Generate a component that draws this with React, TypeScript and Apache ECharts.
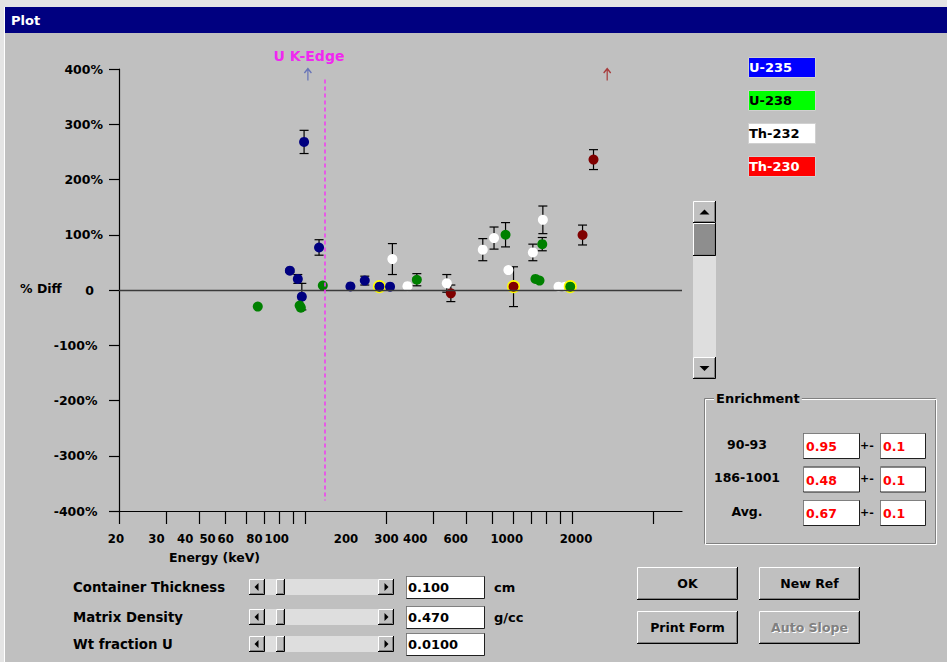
import { useEffect, useRef } from 'react';
import * as echarts from 'echarts';

const FONT = '"DejaVu Sans", Verdana, sans-serif';
const FONT_COND = '"DejaVu Sans Condensed", "DejaVu Sans", sans-serif';

// ---- data: [energy keV, % diff, ± error (0 = none)] ----
const th232 = [
  [211.4, 56, 28], [240.8, 7, 0], [338, 12, 16], [461, 73, 20], [508, 94, 20],
  [575, 36, 0], [710, 68, 15], [774, 127, 25], [886, 6, 0], [938, 6, 0],
];
const u235 = [
  [87.3, 35, 3], [93.5, 20, 8], [98.7, 268, 21], [96.8, -12, 24], [112.3, 77, 14],
  [147.2, 6.5, 0], [166.6, 17, 8], [189, 6, 0], [207.2, 6, 0],
];
const u238 = [
  [66.2, -30, 0], [95, -28, 0], [96, -32, 0], [116, 8, 0], [261, 18.6, 11],
  [561, 100, 22], [726, 20, 0], [752, 17, 0], [770, 83, 12], [980, 6, 0],
];
const th230 = [
  [350, -6, 15], [601, 6, 36], [1090, 99.5, 18], [1198, 236, 18],
];
const u235OffScale = [[102, 391]];
const th230OffScale = [[1348, 391]];
const refPeaks = [189, 601, 980];
const kEdgeEnergy = 118;
const kEdgeSpan = [381, -381];

const xTickValues = [20, 30, 40, 50, 60, 70, 80, 90, 100, 200, 300, 400, 500, 600, 700, 800, 900, 1000, 2000];
const xLabelValues = [20, 30, 40, 50, 60, 80, 100, 200, 300, 400, 600, 1000, 2000];
const yMin = -400;
const yMax = 400;
const yStep = 100;

const legendItems = ['U-235', 'U-238', 'Th-232', 'Th-230'];
const legendFills = ['#0000ff', '#00ff00', '#ffffff', '#ff0000'];
const legendTextColors = ['#ffffff', '#000000', '#000000', '#ffffff'];
const seriesColors = ['#ffffff', '#000080', '#008000', '#800000'];

const enrichRows = ['90-93', '186-1001', 'Avg.'];
const enrichValues = ['0.95', '0.48', '0.67'];
const enrichErrors = ['0.1', '0.1', '0.1'];

const sliderLabels = ['Container Thickness', 'Matrix Density', 'Wt fraction U'];
const sliderValues = ['0.100', '0.470', '0.0100'];
const sliderUnits = ['cm', 'g/cc', ''];
const buttonLabels = ['OK', 'New Ref', 'Print Form', 'Auto Slope'];

const AX = 12.5;

// ---- drawing helpers for the window chrome ----
const txt = (x: number, y: number, text: string, o: any = {}) => ({
  type: 'text',
  x,
  y,
  silent: true,
  z: o.z ?? 10,
  style: {
    text,
    font: `${o.weight ?? 'bold'} ${o.size ?? 12.5}px ${FONT}`,
    fill: o.color ?? '#000',
    align: o.align ?? 'left',
    verticalAlign: 'middle',
    textAlign: o.align ?? 'left',
    textVerticalAlign: 'middle',
    backgroundColor: o.bg,
    padding: o.pad,
  },
});
const rect = (x: number, y: number, w: number, h: number, fill: string, stroke?: string) => ({
  type: 'rect',
  silent: true,
  shape: { x, y, width: w, height: h },
  style: { fill, stroke: stroke ?? null, lineWidth: 1 },
});
const pl = (pts: number[][], stroke: string) => ({
  type: 'polyline',
  silent: true,
  shape: { points: pts },
  style: { stroke, fill: null, lineWidth: 1 },
});
const tri = (pts: number[][]) => ({
  type: 'polygon',
  silent: true,
  shape: { points: pts },
  style: { fill: '#000', stroke: null },
});
const raised = (x: number, y: number, w: number, h: number, fill = '#c0c0c0') => [
  rect(x, y, w, h, fill),
  pl([[x + 0.5, y + h - 1], [x + 0.5, y + 0.5], [x + w - 1, y + 0.5]], '#ffffff'),
  pl([[x, y + h - 0.5], [x + w - 0.5, y + h - 0.5], [x + w - 0.5, y]], '#000000'),
  pl([[x + 1, y + h - 1.5], [x + w - 1.5, y + h - 1.5], [x + w - 1.5, y + 1]], '#808080'),
];
const sunken = (x: number, y: number, w: number, h: number) => [
  rect(x + 0.5, y + 0.5, w - 1, h - 1, '#ffffff', '#202020'),
  pl([[x + 0.5, y + h - 1], [x + 0.5, y + 0.5], [x + w - 1, y + 0.5]], '#808080'),
];

function buildGraphics() {
  const g: any[] = [];
  // window frame + title bar
  g.push(rect(0, 0, 947, 7, '#e4e4e4'));
  g.push(rect(0, 0, 4, 662, '#e4e4e4'));
  g.push(rect(4, 7, 1, 655, '#ffffff'));
  g.push(rect(5, 7, 942, 26, '#000080'));
  g.push(txt(11, 20, 'Plot', { color: '#ffffff', size: 13 }));

  // axis captions
  g.push(txt(20, 288, '% Diff', { size: AX }));
  g.push(txt(214.5, 557, 'Energy (keV)', { size: AX, align: 'center' }));
  g.push(txt(309, 56, 'U K-Edge', { size: 14, align: 'center', color: '#f028f0' }));

  // legend boxes
  legendItems.forEach((name, i) => {
    const y = 57 + i * 33;
    g.push(rect(748.5, y + 0.5, 67, 20, legendFills[i], '#d0d0d0'));
    g.push(txt(749, y + 10.5, name, { color: legendTextColors[i], size: 13 }));
  });

  // vertical scrollbar
  const vx = 693;
  g.push(rect(vx, 256, 23, 101, '#dedede'));
  g.push(...raised(vx, 201, 23, 22));
  g.push(tri([[699.5, 214.5], [709.5, 214.5], [704.5, 209.5]]));
  g.push(...raised(vx, 223, 23, 33, '#8e8e8e'));
  g.push(...raised(vx, 357, 23, 22));
  g.push(tri([[699.5, 366], [709.5, 366], [704.5, 371]]));

  // enrichment group box
  g.push(rect(704.5, 398.5, 231, 145, 'rgba(0,0,0,0)', '#808080'));
  g.push(rect(705.5, 399.5, 231, 145, 'rgba(0,0,0,0)', '#ffffff'));
  g.push(txt(714, 398, 'Enrichment', { bg: '#c0c0c0', pad: [0, 2, 0, 2], size: 13 }));
  enrichRows.forEach((label, i) => {
    const y = 433 + i * 33.5;
    g.push(txt(747, y + 11, label, { align: 'center' }));
    g.push(...sunken(803, y, 57, 26));
    g.push(txt(806, y + 13.5, enrichValues[i], { color: '#ff0000' }));
    g.push(txt(867, y + 12, '+-', { align: 'center', size: 11 }));
    g.push(...sunken(880, y, 46, 26));
    g.push(txt(883, y + 13.5, enrichErrors[i], { color: '#ff0000' }));
  });

  // sliders
  sliderLabels.forEach((label, i) => {
    const cy = [587, 617, 644][i];
    g.push(txt(73, cy, label, { size: 13.3 }));
    const sx = 249;
    const sy = cy - 8;
    g.push(rect(sx, sy, 145, 16, '#dedede'));
    g.push(...raised(sx, sy, 16, 16));
    g.push(tri([[sx + 9.5, sy + 4], [sx + 9.5, sy + 12], [sx + 5.5, sy + 8]]));
    g.push(...raised(sx + 27, sy, 9, 16));
    g.push(...raised(sx + 129, sy, 16, 16));
    g.push(tri([[sx + 135.5, sy + 4], [sx + 135.5, sy + 12], [sx + 139.5, sy + 8]]));
    g.push(...sunken(406, cy - 11, 79, 23));
    g.push(txt(408, cy + 0.5, sliderValues[i], { size: 13 }));
    if (sliderUnits[i]) g.push(txt(494, cy, sliderUnits[i], { size: 13 }));
  });

  // buttons
  buttonLabels.forEach((label, i) => {
    const x = i % 2 === 0 ? 637 : 759;
    const y = i < 2 ? 567 : 611;
    g.push(...raised(x, y, 101, 33));
    if (label === 'Auto Slope') {
      g.push(txt(x + 51.5, y + 17.5, label, { align: 'center', color: '#ffffff' }));
      g.push(txt(x + 50.5, y + 16.5, label, { align: 'center', color: '#808080', z: 11 }));
    } else {
      g.push(txt(x + 50.5, y + 16.5, label, { align: 'center' }));
    }
  });
  return g;
}

const arrowPath = 'path://M4,0 L8,5 L7,6 L4.6,3 L4.6,13 L3.4,13 L3.4,3 L1,6 L0,5 Z';

export default function App() {
  const ref = useRef<HTMLDivElement>(null);
  useEffect(() => {
    if (!ref.current) return;
    const chart = echarts.init(ref.current, undefined, { renderer: 'svg' });
    const groups = [
      { name: 'Th-232', data: th232, color: seriesColors[0] },
      { name: 'U-235', data: u235, color: seriesColors[1] },
      { name: 'U-238', data: u238, color: seriesColors[2] },
      { name: 'Th-230', data: th230, color: seriesColors[3] },
    ];
    const errData = groups.flatMap((g) =>
      g.data.filter((d) => d[2] > 0).map((d) => [d[0], d[1] - d[2], d[1] + d[2]])
    );
    const scatterSeries = groups.map((g, i) => ({
      type: 'scatter',
      name: g.name,
      xAxisIndex: 0,
      yAxisIndex: 0,
      z: 3,
      symbol: 'circle',
      itemStyle: { color: g.color, opacity: 1 },
      emphasis: { disabled: true },
      data: g.data.map((d) => {
        const hi = refPeaks.includes(d[0]);
        return {
          value: [d[0], d[1]],
          symbolSize: hi ? 11.5 : 10,
          itemStyle: hi ? { borderColor: '#ffff00', borderWidth: 1.5 } : undefined,
        };
      }),
      markLine:
        i === 0
          ? {
              silent: true,
              symbol: ['none', 'none'],
              label: { show: false },
              emphasis: { disabled: true },
              animation: false,
              data: [
                { yAxis: 0, lineStyle: { color: '#3a3a3a', width: 1.3, type: 'solid' } },
                [
                  { coord: [kEdgeEnergy, kEdgeSpan[0]], lineStyle: { color: '#f040f0', width: 1.6, type: [4, 3] } },
                  { coord: [kEdgeEnergy, kEdgeSpan[1]] },
                ],
              ],
            }
          : undefined,
    }));
    const option: any = {
      animation: false,
      backgroundColor: '#c0c0c0',
      grid: [
        { left: 119, top: 69, width: 563, height: 442, outerBoundsMode: 'none', containLabel: false },
        { left: 116, top: 69, width: 563, height: 442, outerBoundsMode: 'none', containLabel: false },
      ],
      xAxis: [
        {
          type: 'log',
          gridIndex: 0,
          min: 20,
          max: 2570,
          logBase: 10,
          axisLine: { show: true, onZero: false, lineStyle: { color: '#000', width: 1.2 } },
          axisTick: { show: true, length: 13, customValues: xTickValues, lineStyle: { color: '#000', width: 1.2 } },
          minorTick: { show: false },
          axisLabel: { show: false },
          splitLine: { show: false },
        },
        {
          type: 'value',
          gridIndex: 1,
          min: Math.log10(20),
          max: Math.log10(20) + 563 / 230,
          axisLine: { show: false },
          axisTick: { show: false },
          splitLine: { show: false },
          axisLabel: {
            show: true,
            customValues: xLabelValues.map((v) => Math.log10(v)),
            formatter: (v: number) => String(Math.round(Math.pow(10, v))),
            margin: 21,
            color: '#000',
            fontFamily: FONT_COND,
            fontWeight: 'bold',
            fontSize: 13,
            hideOverlap: false,
          },
        },
      ],
      yAxis: [
        {
          type: 'value',
          gridIndex: 0,
          min: yMin,
          max: yMax,
          interval: yStep,
          axisLine: { show: true, onZero: false, lineStyle: { color: '#000', width: 1.2 } },
          axisTick: { show: true, length: 10, lineStyle: { color: '#000', width: 1.2 } },
          splitLine: { show: false },
          axisLabel: {
            margin: 16,
            color: '#000',
            fontFamily: FONT,
            fontWeight: 'bold',
            fontSize: AX,
            formatter: (v: number) => (v === 0 ? '{z|0}' : v < 0 ? `{n|${v}%}` : `${v}%`),
            rich: {
              z: { padding: [0, 9, 0, 0], fontFamily: FONT, fontWeight: 'bold', fontSize: AX, color: '#000' },
              n: { padding: [0, 5.5, 0, 0], fontFamily: FONT, fontWeight: 'bold', fontSize: AX, color: '#000' },
            },
          },
        },
        { type: 'value', gridIndex: 1, show: false, min: 0, max: 1 },
      ],
      graphic: { elements: buildGraphics() },
      series: [
        {
          type: 'custom',
          name: 'errors',
          xAxisIndex: 0,
          yAxisIndex: 0,
          z: 2,
          silent: true,
          encode: { x: 0, y: [1, 2] },
          data: errData,
          renderItem: (_p: any, api: any) => {
            const x = api.value(0);
            const top = api.coord([x, api.value(2)]);
            const bot = api.coord([x, api.value(1)]);
            const w = 4.5;
            const st = { stroke: '#000', lineWidth: 1.2 };
            return {
              type: 'group',
              children: [
                { type: 'line', shape: { x1: top[0], y1: top[1], x2: bot[0], y2: bot[1] }, style: st },
                { type: 'line', shape: { x1: top[0] - w, y1: top[1], x2: top[0] + w, y2: top[1] }, style: st },
                { type: 'line', shape: { x1: bot[0] - w, y1: bot[1], x2: bot[0] + w, y2: bot[1] }, style: st },
              ],
            };
          },
        },
        ...scatterSeries,
        {
          type: 'scatter',
          name: 'U-235 off scale',
          symbol: arrowPath,
          symbolSize: [8, 13],
          itemStyle: { color: '#4f5fb5' },
          emphasis: { disabled: true },
          data: u235OffScale,
        },
        {
          type: 'scatter',
          name: 'Th-230 off scale',
          symbol: arrowPath,
          symbolSize: [8, 13],
          itemStyle: { color: '#a01818' },
          emphasis: { disabled: true },
          data: th230OffScale,
        },
      ],
    };
    chart.setOption(option);
    return () => chart.dispose();
  }, []);
  return (
    <div
      ref={ref}
      style={{ position: 'fixed', left: 0, top: 0, width: 947, height: 662, background: '#c0c0c0' }}
    />
  );
}
